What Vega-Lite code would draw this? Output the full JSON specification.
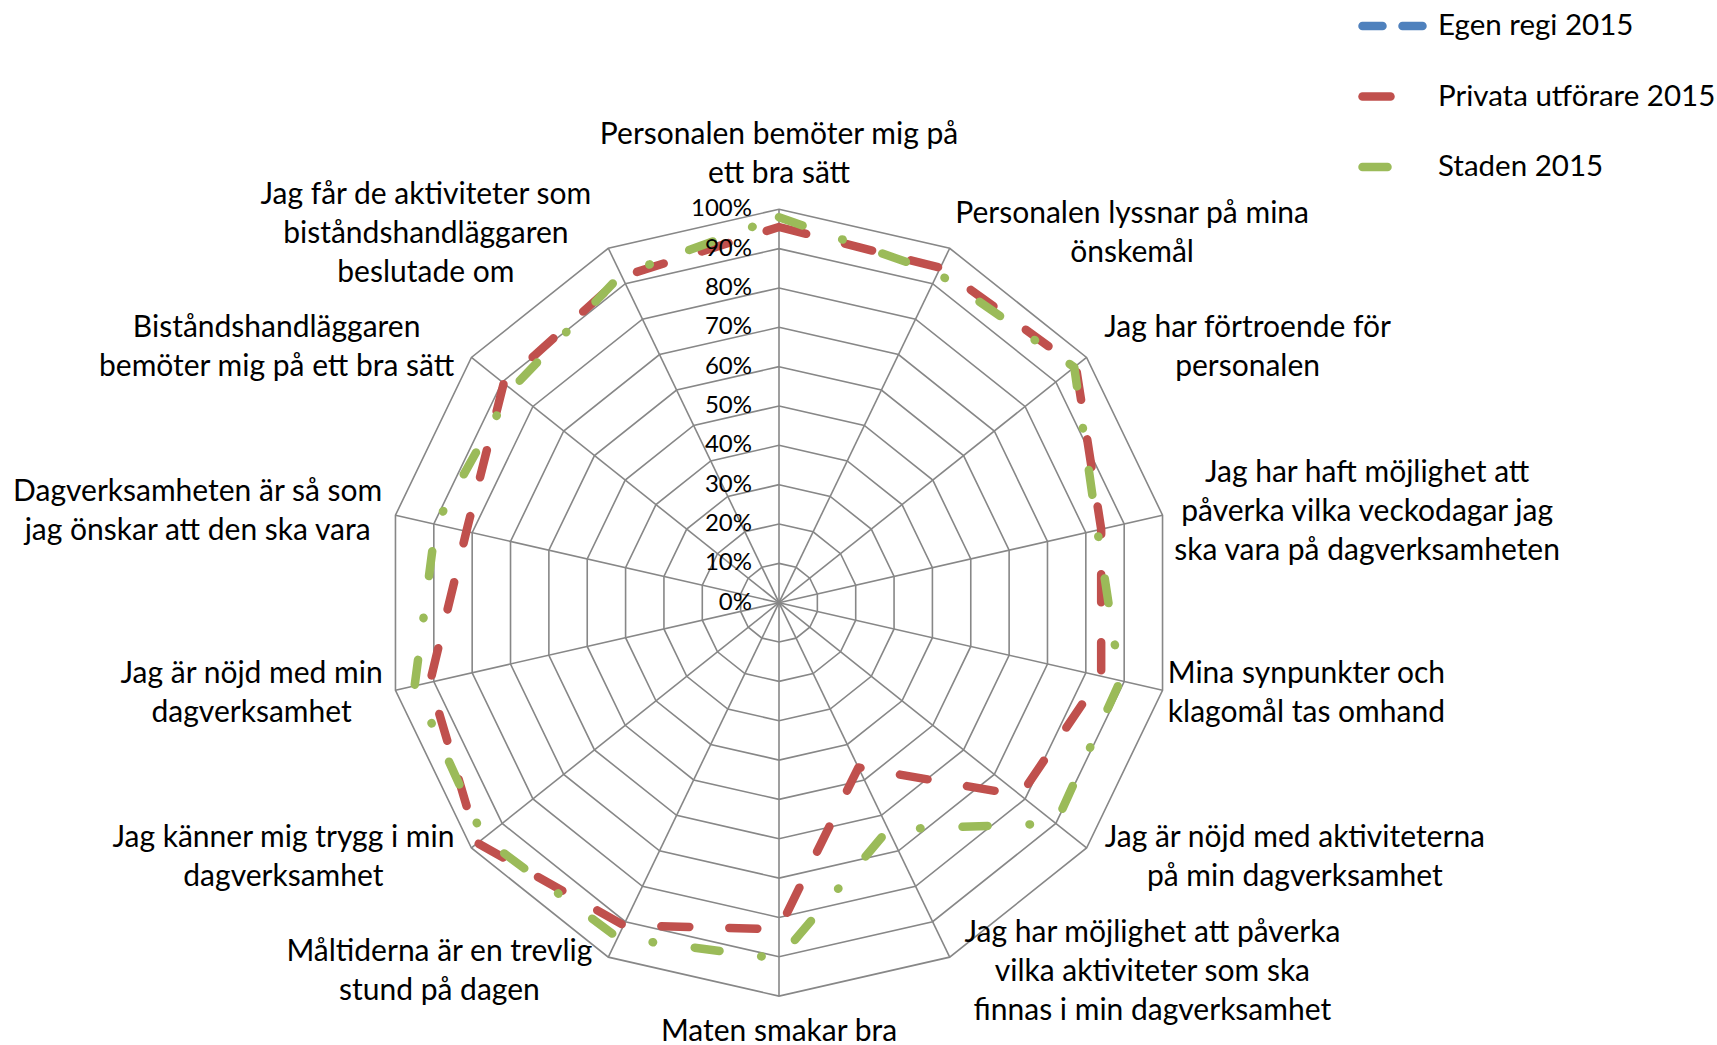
{
  "$schema": "https://vega.github.io/schema/vega-lite/v6.json",
  "width": 1717,
  "height": 1045,
  "autosize": "none",
  "padding": 0,
  "background": "white",
  "config": {"view": {"stroke": null}},
  "datasets": {
    "cats": [
      {"k": 0, "label": ["Personalen bemöter mig på", "ett bra sätt"]},
      {"k": 1, "label": ["Personalen lyssnar på mina", "önskemål"]},
      {"k": 2, "label": ["Jag har förtroende för", "personalen"]},
      {"k": 3, "label": ["Jag har haft möjlighet att", "påverka vilka veckodagar jag", "ska vara på dagverksamheten"]},
      {"k": 4, "label": ["Mina synpunkter och", "klagomål tas omhand"]},
      {"k": 5, "label": ["Jag är nöjd med aktiviteterna", "på min dagverksamhet"]},
      {"k": 6, "label": ["Jag har möjlighet att påverka", "vilka aktiviteter som ska", "finnas i min dagverksamhet"]},
      {"k": 7, "label": ["Maten smakar bra"]},
      {"k": 8, "label": ["Måltiderna är en trevlig", "stund på dagen"]},
      {"k": 9, "label": ["Jag känner mig trygg i min", "dagverksamhet"]},
      {"k": 10, "label": ["Jag är nöjd med min", "dagverksamhet"]},
      {"k": 11, "label": ["Dagverksamheten är så som", "jag önskar att den ska vara"]},
      {"k": 12, "label": ["Biståndshandläggaren", "bemöter mig på ett bra sätt"]},
      {"k": 13, "label": ["Jag får de aktiviteter som", "biståndshandläggaren", "beslutade om"]}
    ],
    "results": [
      {"k": 0, "Privata utförare 2015": 0.955, "Staden 2015": 0.98},
      {"k": 1, "Privata utförare 2015": 0.945, "Staden 2015": 0.93},
      {"k": 2, "Privata utförare 2015": 0.965, "Staden 2015": 0.96},
      {"k": 3, "Privata utförare 2015": 0.84, "Staden 2015": 0.83},
      {"k": 4, "Privata utförare 2015": 0.84, "Staden 2015": 0.89},
      {"k": 5, "Privata utförare 2015": 0.785, "Staden 2015": 0.9},
      {"k": 6, "Privata utförare 2015": 0.465, "Staden 2015": 0.64},
      {"k": 7, "Privata utförare 2015": 0.83, "Staden 2015": 0.905},
      {"k": 8, "Privata utförare 2015": 0.91, "Staden 2015": 0.945},
      {"k": 9, "Privata utförare 2015": 0.98, "Staden 2015": 0.96},
      {"k": 10, "Privata utförare 2015": 0.91, "Staden 2015": 0.95},
      {"k": 11, "Privata utförare 2015": 0.815, "Staden 2015": 0.895},
      {"k": 12, "Privata utförare 2015": 0.895, "Staden 2015": 0.87},
      {"k": 13, "Privata utförare 2015": 0.92, "Staden 2015": 0.925}
    ],
    "ticks": [
      {"level": 0}, {"level": 0.1}, {"level": 0.2}, {"level": 0.3}, {"level": 0.4}, {"level": 0.5},
      {"level": 0.6}, {"level": 0.7}, {"level": 0.8}, {"level": 0.9}, {"level": 1}
    ]
  },
  "layer": [
    {
      "data": {"name": "cats"},
      "transform": [
        {"calculate": "[0.1,0.2,0.3,0.4,0.5,0.6,0.7,0.8,0.9,1]", "as": "levels"},
        {"flatten": ["levels"], "as": ["level"]},
        {"calculate": "datum.k*2*PI/14", "as": "theta"},
        {"calculate": "datum.level*sin(datum.theta)", "as": "px"},
        {"calculate": "datum.level*cos(datum.theta)", "as": "py"}
      ],
      "mark": {"type": "line", "interpolate": "linear-closed", "color": "#878787", "strokeWidth": 1.6},
      "encoding": {
        "x": {"field": "px", "type": "quantitative", "scale": {"domain": [-1.98017, 2.38434], "nice": false, "zero": false}, "axis": null},
        "y": {"field": "py", "type": "quantitative", "scale": {"domain": [-1.1243, 1.53203], "nice": false, "zero": false}, "axis": null},
        "detail": {"field": "level", "type": "nominal"},
        "order": {"field": "k", "type": "quantitative"}
      }
    },
    {
      "data": {"name": "cats"},
      "transform": [
        {"calculate": "datum.k*2*PI/14", "as": "theta"},
        {"calculate": "sin(datum.theta)", "as": "px"},
        {"calculate": "cos(datum.theta)", "as": "py"}
      ],
      "mark": {"type": "rule", "color": "#878787", "strokeWidth": 1.6},
      "encoding": {
        "x": {"field": "px", "type": "quantitative", "scale": {"domain": [-1.98017, 2.38434], "nice": false, "zero": false}, "axis": null},
        "y": {"field": "py", "type": "quantitative", "scale": {"domain": [-1.1243, 1.53203], "nice": false, "zero": false}, "axis": null},
        "x2": {"datum": 0},
        "y2": {"datum": 0}
      }
    },
    {
      "data": {"name": "results"},
      "transform": [
        {"fold": ["Privata utförare 2015", "Staden 2015"], "as": ["serie", "value"]},
        {"calculate": "datum.k*2*PI/14", "as": "theta"},
        {"calculate": "datum.value*sin(datum.theta)", "as": "px"},
        {"calculate": "datum.value*cos(datum.theta)", "as": "py"}
      ],
      "mark": {"type": "line", "interpolate": "linear-closed", "strokeWidth": 8.5, "strokeCap": "round", "strokeJoin": "round"},
      "encoding": {
        "x": {"field": "px", "type": "quantitative", "scale": {"domain": [-1.98017, 2.38434], "nice": false, "zero": false}, "axis": null},
        "y": {"field": "py", "type": "quantitative", "scale": {"domain": [-1.1243, 1.53203], "nice": false, "zero": false}, "axis": null},
        "order": {"field": "k", "type": "quantitative"},
        "color": {
          "field": "serie", "type": "nominal",
          "scale": {"domain": ["Egen regi 2015", "Privata utförare 2015", "Staden 2015"], "range": ["#4F81BD", "#C0504D", "#9BBB59"]},
          "legend": {"title": null, "orient": "none", "legendX": 1358, "legendY": -9, "padding": 0, "symbolType": "stroke", "symbolSize": 3721, "symbolStrokeWidth": 8.5, "labelFont": "Lato", "labelFontSize": 29.5, "labelColor": "#000000", "labelOffset": 10, "rowPadding": 18.5, "labelLimit": 400, "encode": {"symbols": {"update": {"strokeCap": {"value": "round"}}}}}
        },
        "strokeDash": {
          "field": "serie", "type": "nominal",
          "scale": {"domain": ["Egen regi 2015", "Privata utförare 2015", "Staden 2015"], "range": [[20, 20], [28, 40], [25, 42, 0.5, 42]]},
          "legend": {"title": null, "orient": "none", "legendX": 1358, "legendY": -9, "padding": 0, "symbolType": "stroke", "symbolSize": 3721, "symbolStrokeWidth": 8.5, "labelFont": "Lato", "labelFontSize": 29.5, "labelColor": "#000000", "labelOffset": 10, "rowPadding": 18.5, "labelLimit": 400, "encode": {"symbols": {"update": {"strokeCap": {"value": "round"}}}}}
        }
      }
    },
    {
      "data": {"name": "ticks"},
      "transform": [
        {"calculate": "format(datum.level, '.0%')", "as": "txt"}
      ],
      "mark": {"type": "text", "align": "right", "baseline": "middle", "dx": -27, "font": "Lato", "fontSize": 24, "color": "#000000"},
      "encoding": {
        "x": {"datum": 0, "type": "quantitative", "scale": {"domain": [-1.98017, 2.38434], "nice": false, "zero": false}, "axis": null},
        "y": {"field": "level", "type": "quantitative", "scale": {"domain": [-1.1243, 1.53203], "nice": false, "zero": false}, "axis": null},
        "text": {"field": "txt"}
      }
    },
    {
      "data": {"name": "cats"},
      "transform": [
        {"calculate": "datum.k*2*PI/14", "as": "theta"},
        {"calculate": "sin(datum.theta)", "as": "s"},
        {"calculate": "cos(datum.theta)", "as": "c"},
        {"calculate": "length(datum.label)", "as": "n"},
        {"calculate": "max(length(datum.label[0]), datum.n > 1 ? length(datum.label[1]) : 0, datum.n > 2 ? length(datum.label[2]) : 0)", "as": "m"},
        {"calculate": "datum.m*13.5/2", "as": "hw"},
        {"calculate": "datum.s*(1+16/393.4) + (abs(datum.s) > 0.01 ? (datum.s > 0 ? 1 : -1)*datum.hw/393.4 : 0)", "as": "px"},
        {"calculate": "datum.c*(1+16/393.4) + (abs(datum.s) > 0.01 ? 0 : (datum.c > 0 ? 1 : -1)*datum.n*39/2/393.4) + (datum.n-1)*39/2/393.4", "as": "py"}
      ],
      "mark": {"type": "text", "align": "center", "baseline": "middle", "font": "Lato", "fontSize": 30, "lineHeight": 39, "color": "#000000"},
      "encoding": {
        "x": {"field": "px", "type": "quantitative", "scale": {"domain": [-1.98017, 2.38434], "nice": false, "zero": false}, "axis": null},
        "y": {"field": "py", "type": "quantitative", "scale": {"domain": [-1.1243, 1.53203], "nice": false, "zero": false}, "axis": null},
        "text": {"field": "label"}
      }
    }
  ]
}
